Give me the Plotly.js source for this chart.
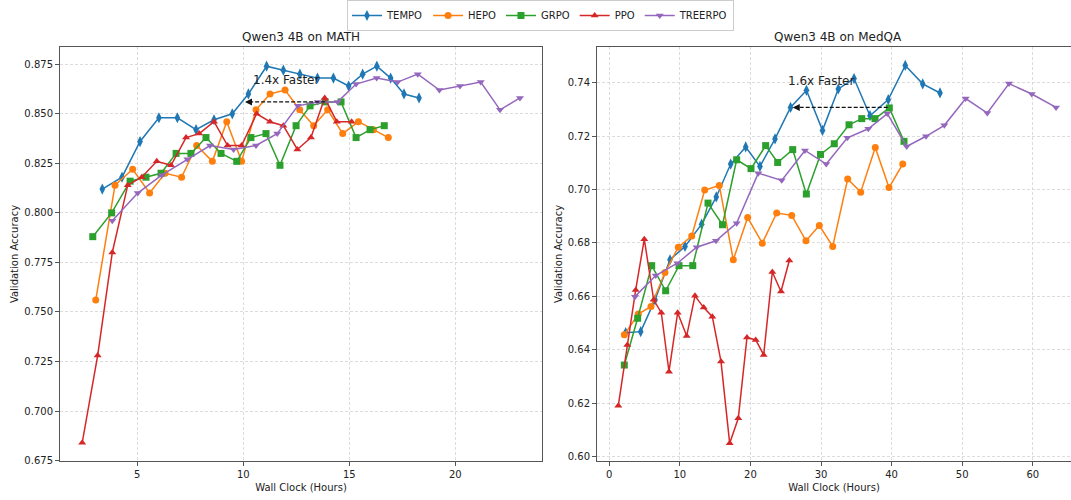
<!DOCTYPE html>
<html>
<head>
<meta charset="utf-8">
<script src="https://cdn.plot.ly/plotly-3.0.1.min.js"></script>
<style>html,body{margin:0;padding:0;background:#fff;}#chart{width:1071px;height:500px;}</style>
</head>
<body>
<div id="chart"></div>
<script>
// ---------- data: Qwen3 4B on MATH ----------
const mathTempoX = [3.35, 4.28, 5.13, 6.02, 6.89, 7.77, 8.62, 9.48, 10.24, 11.1, 11.89, 12.67, 13.5, 14.25, 14.97, 15.63, 16.3, 16.95, 17.58, 18.29];
const mathTempoY = [0.812, 0.818, 0.836, 0.848, 0.848, 0.842, 0.847, 0.850, 0.860, 0.874, 0.872, 0.870, 0.868, 0.868, 0.864, 0.870, 0.874, 0.868, 0.860, 0.858];
const mathHepoX = [3.04, 3.95, 4.78, 5.58, 6.31, 7.09, 7.8, 8.54, 9.22, 9.92, 10.6, 11.26, 11.97, 12.66, 13.32, 13.98, 14.69, 15.43, 16.14, 16.84];
const mathHepoY = [0.756, 0.814, 0.822, 0.810, 0.820, 0.818, 0.834, 0.826, 0.846, 0.826, 0.852, 0.860, 0.862, 0.852, 0.844, 0.852, 0.840, 0.846, 0.842, 0.838];
const mathGrpoX = [2.9, 3.79, 4.66, 5.41, 6.12, 6.83, 7.53, 8.24, 8.95, 9.69, 10.36, 11.07, 11.73, 12.49, 13.15, 13.86, 14.61, 15.32, 15.98, 16.65];
const mathGrpoY = [0.788, 0.800, 0.816, 0.818, 0.820, 0.830, 0.830, 0.838, 0.830, 0.826, 0.838, 0.840, 0.824, 0.844, 0.854, 0.856, 0.856, 0.838, 0.842, 0.844];
const mathPpoX = [2.4, 3.13, 3.82, 4.55, 5.21, 5.92, 6.59, 7.3, 7.92, 8.62, 9.26, 9.92, 10.63, 11.26, 11.89, 12.55, 13.19, 13.84, 14.41, 15.11];
const mathPpoY = [0.684, 0.728, 0.780, 0.814, 0.818, 0.826, 0.824, 0.838, 0.840, 0.846, 0.834, 0.834, 0.850, 0.846, 0.844, 0.832, 0.838, 0.858, 0.846, 0.846];
const mathTreeX = [3.82, 5.02, 6.15, 7.36, 8.43, 9.54, 10.6, 11.6, 12.57, 13.51, 14.45, 15.32, 16.29, 17.28, 18.23, 19.25, 20.22, 21.2, 22.11, 23.05];
const mathTreeY = [0.796, 0.810, 0.819, 0.827, 0.834, 0.832, 0.834, 0.840, 0.854, 0.856, 0.856, 0.865, 0.868, 0.866, 0.870, 0.862, 0.864, 0.866, 0.852, 0.858];

// ---------- data: Qwen3 4B on MedQA ----------
const medTempoX = [2.32, 4.45, 6.48, 8.6, 10.73, 13.09, 15.16, 17.2, 19.33, 21.35, 23.48, 25.68, 27.94, 30.21, 32.45, 34.68, 36.94, 39.53, 41.94, 44.41, 46.86];
const medTempoY = [0.6464, 0.6468, 0.6587, 0.6737, 0.6787, 0.6870, 0.6972, 0.7095, 0.7159, 0.7086, 0.7189, 0.7307, 0.7371, 0.7221, 0.7376, 0.7415, 0.7276, 0.7336, 0.7464, 0.7395, 0.7361];
const medHepoX = [2.13, 4.11, 5.91, 7.89, 9.78, 11.68, 13.52, 15.59, 17.57, 19.61, 21.68, 23.72, 25.85, 27.87, 29.76, 31.66, 33.78, 35.62, 37.69, 39.63, 41.58];
const medHepoY = [0.6456, 0.6534, 0.6562, 0.6689, 0.6784, 0.6826, 0.6998, 0.7015, 0.6737, 0.6895, 0.6799, 0.6912, 0.6903, 0.6808, 0.6865, 0.6787, 0.7039, 0.6990, 0.7157, 0.7007, 0.7095];
const medGrpoX = [2.13, 4.02, 6.01, 7.99, 9.88, 11.83, 13.99, 16.04, 18.05, 20.08, 22.16, 23.86, 25.99, 27.92, 29.93, 31.88, 33.97, 35.77, 37.65, 39.68, 41.76];
const medGrpoY = [0.6343, 0.6518, 0.6715, 0.6621, 0.6715, 0.6715, 0.6949, 0.6868, 0.7111, 0.7078, 0.7164, 0.7101, 0.7149, 0.6983, 0.7131, 0.7171, 0.7242, 0.7265, 0.7265, 0.7305, 0.7180];
const medPpoX = [1.28, 2.55, 3.74, 4.96, 6.29, 7.37, 8.46, 9.69, 10.97, 12.14, 13.38, 14.6, 15.83, 17.06, 18.28, 19.51, 20.75, 21.88, 23.1, 24.33, 25.51];
const medPpoY = [0.6191, 0.6418, 0.6624, 0.6814, 0.6587, 0.6539, 0.6318, 0.6539, 0.6452, 0.6602, 0.6558, 0.6524, 0.6356, 0.6050, 0.6144, 0.6446, 0.6437, 0.6381, 0.6691, 0.6618, 0.6734];
const medTreeX = [3.64, 6.58, 9.64, 12.38, 15.12, 18.05, 21.11, 24.43, 27.73, 30.74, 33.73, 36.7, 39.39, 42.14, 44.88, 47.47, 50.5, 53.56, 56.64, 59.86, 63.3];
const medTreeY = [0.6599, 0.6678, 0.6724, 0.6784, 0.6808, 0.6874, 0.7061, 0.7034, 0.7146, 0.7095, 0.7193, 0.7227, 0.7284, 0.7161, 0.7199, 0.7240, 0.7340, 0.7286, 0.7396, 0.7357, 0.7307];

// ---------- labels ----------
const methodNames = ["TEMPO", "HEPO", "GRPO", "PPO", "TREERPO"];
const panelTitles = ["Qwen3 4B on MATH", "Qwen3 4B on MedQA"];
const xLabel = "Wall Clock (Hours)";
const yLabel = "Validation Accuracy";
const mathTickVals = [0.675, 0.700, 0.725, 0.750, 0.775, 0.800, 0.825, 0.850, 0.875];
const medTickVals = [0.60, 0.62, 0.64, 0.66, 0.68, 0.70, 0.72, 0.74];
const mathSpeedText = "1.4x Faster";
const medSpeedText = "1.6x Faster";
const mathArrowFrom = 13.86, mathArrowTo = 10.08, mathArrowY = 0.856;
const medArrowFrom = 39.45, medArrowTo = 26.0, medArrowY = 0.7307;

// ---------- styles ----------
const colors = ["#1f77b4", "#ff7f0e", "#2ca02c", "#d62728", "#9467bd"];
const symbols = ["diamond-tall", "circle", "square", "triangle-up", "triangle-down"];
const FONT = "DejaVu Sans, Liberation Sans, sans-serif";

const mathX = [mathTempoX, mathHepoX, mathGrpoX, mathPpoX, mathTreeX];
const mathY = [mathTempoY, mathHepoY, mathGrpoY, mathPpoY, mathTreeY];
const medX = [medTempoX, medHepoX, medGrpoX, medPpoX, medTreeX];
const medY = [medTempoY, medHepoY, medGrpoY, medPpoY, medTreeY];

const traces = [];
methodNames.forEach((name, i) => {
  const base = {
    type: "scatter", mode: "lines+markers", name: name,
    line: {color: colors[i], width: 1.5},
    marker: {color: colors[i], symbol: symbols[i], size: i === 0 ? 8 : 7, line: {width: 0}},
    hoverinfo: "x+y+name"
  };
  traces.push(Object.assign({}, base, {x: mathX[i], y: mathY[i], xaxis: "x", yaxis: "y", legendgroup: name, showlegend: true}));
  traces.push(Object.assign({}, base, {x: medX[i], y: medY[i], xaxis: "x2", yaxis: "y2", legendgroup: name, showlegend: false}));
});

const axisCommon = {
  showgrid: true, gridcolor: "#d3d3d3", gridwidth: 0.8, griddash: "3px,2px",
  zeroline: false, showline: true, linecolor: "#555", linewidth: 1,
  ticks: "outside", ticklen: 4, tickwidth: 1, tickcolor: "#555",
  tickfont: {family: FONT, size: 10, color: "#222"},
  automargin: false
};

const W = 1071, H = 500;
const L = 60, T = 46, B = 39;
const plotW = W - L;

const layout = {
  width: W, height: H,
  margin: {l: L, r: 0, t: T, b: B, pad: 0},
  paper_bgcolor: "#fff", plot_bgcolor: "#fff",
  font: {family: FONT, size: 10, color: "#222"},
  showlegend: true,
  legend: {
    orientation: "h", x: (540.5 - L) / plotW, xanchor: "center",
    y: 1 + (T + 1) / (H - T - B), yanchor: "top",
    bordercolor: "#cccccc", borderwidth: 1, bgcolor: "#fff",
    font: {family: FONT, size: 10, color: "#222"},
    itemwidth: 30, tracegroupgap: 0
  },
  xaxis: Object.assign({}, axisCommon, {
    domain: [0, 482 / plotW], range: [1.354, 24.09], mirror: true,
    tickvals: [5, 10, 15, 20], anchor: "y",
    title: {text: xLabel, font: {family: FONT, size: 10, color: "#222"}, standoff: 4}
  }),
  yaxis: Object.assign({}, axisCommon, {
    domain: [0, 1], range: [0.6748, 0.8837], mirror: true,
    tickvals: mathTickVals, tickformat: ".3f", anchor: "x",
    title: {text: yLabel, font: {family: FONT, size: 10, color: "#222"}, standoff: 3}
  }),
  xaxis2: Object.assign({}, axisCommon, {
    domain: [537 / plotW, 1], range: [-1.74, 65.42], mirror: true,
    tickvals: [0, 10, 20, 30, 40, 50, 60], anchor: "y2",
    title: {text: xLabel, font: {family: FONT, size: 10, color: "#222"}, standoff: 4}
  }),
  yaxis2: Object.assign({}, axisCommon, {
    domain: [0, 1], range: [0.5984, 0.7533], mirror: false,
    tickvals: medTickVals, tickformat: ".2f", anchor: "x2",
    title: {text: yLabel, font: {family: FONT, size: 10, color: "#222"}, standoff: 3}
  }),
  annotations: [
    {xref: "paper", yref: "paper", x: 241 / plotW, y: 1 + 10 / (H - T - B), xanchor: "center", yanchor: "middle",
     text: panelTitles[0], showarrow: false, font: {family: FONT, size: 12, color: "#222"}},
    {xref: "paper", yref: "paper", x: (537 + 241) / plotW, y: 1 + 10 / (H - T - B), xanchor: "center", yanchor: "middle",
     text: panelTitles[1], showarrow: false, font: {family: FONT, size: 12, color: "#222"}},
    {xref: "x", yref: "y", x: 10.35, y: 0.8669, xanchor: "left", yanchor: "middle",
     text: mathSpeedText, showarrow: false, font: {family: FONT, size: 12, color: "#222"}},
    {xref: "x2", yref: "y2", x: 25.1, y: 0.7404, xanchor: "left", yanchor: "middle",
     text: medSpeedText, showarrow: false, font: {family: FONT, size: 12, color: "#222"}},
    {xref: "x", yref: "y", axref: "x", ayref: "y", x: mathArrowTo, y: mathArrowY, ax: mathArrowTo + 0.35, ay: mathArrowY,
     text: "", showarrow: true, arrowhead: 2, arrowsize: 1, arrowwidth: 1.4, arrowcolor: "#111", standoff: 0},
    {xref: "x2", yref: "y2", axref: "x2", ayref: "y2", x: medArrowTo, y: medArrowY, ax: medArrowTo + 1.0, ay: medArrowY,
     text: "", showarrow: true, arrowhead: 2, arrowsize: 1, arrowwidth: 1.4, arrowcolor: "#111", standoff: 0}
  ],
  shapes: [
    {type: "line", xref: "x", yref: "y", x0: mathArrowFrom, x1: mathArrowTo + 0.2, y0: mathArrowY, y1: mathArrowY,
     line: {color: "#111", width: 1.4, dash: "4px,2px"}},
    {type: "line", xref: "x2", yref: "y2", x0: medArrowFrom, x1: medArrowTo + 0.6, y0: medArrowY, y1: medArrowY,
     line: {color: "#111", width: 1.4, dash: "4px,2px"}}
  ]
};

Plotly.newPlot("chart", traces, layout, {displayModeBar: false, staticPlot: true});
</script>
</body>
</html>
